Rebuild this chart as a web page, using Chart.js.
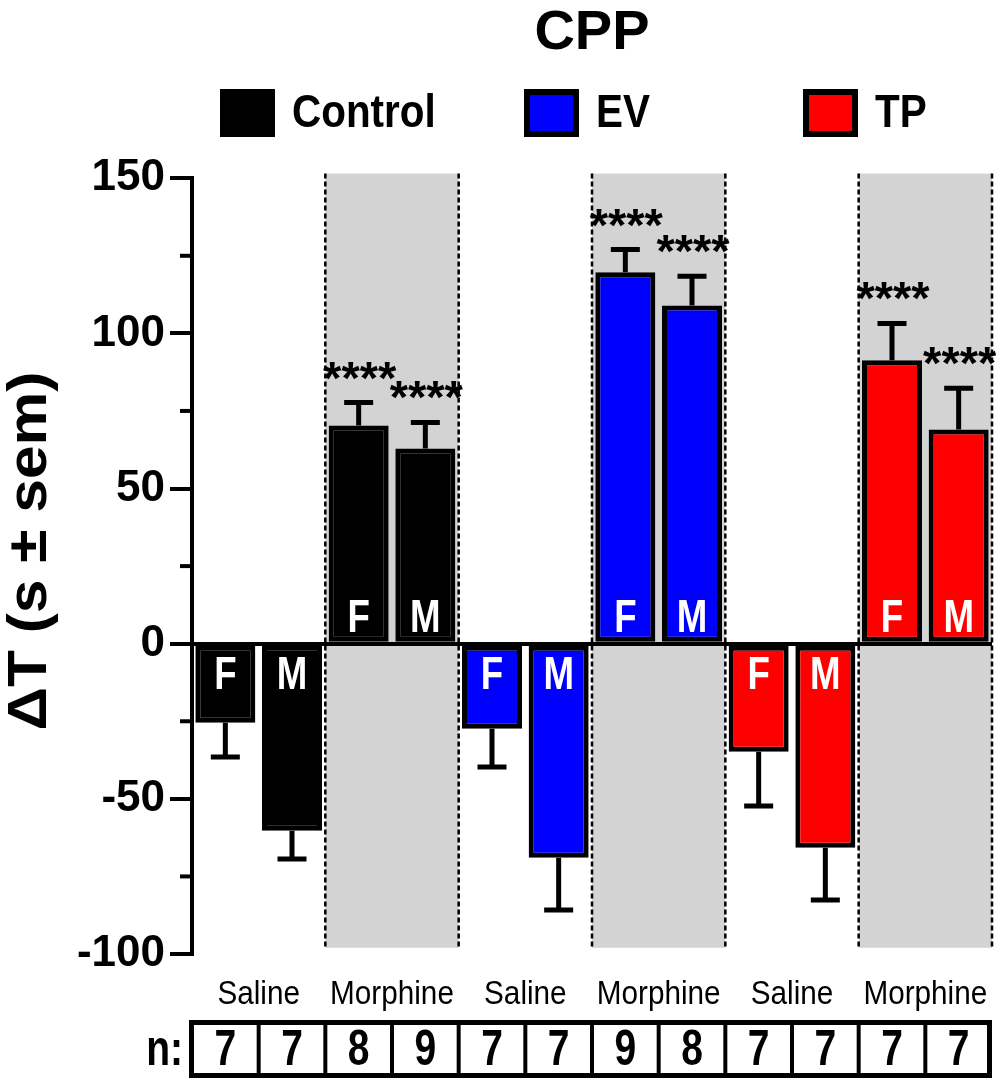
<!DOCTYPE html>
<html lang="en">
<head>
<meta charset="UTF-8">
<title>CPP</title>
<script src="https://cdn.jsdelivr.net/npm/chart.js"></script>
<style>
  html, body { margin: 0; padding: 0; background: #fff; }
  #wrap { width: 1000px; height: 1082px; }
</style>
</head>
<body>
<div id="wrap"><canvas id="cpp" width="1000" height="1082"></canvas></div>
<script>
// ---- data ----
const categories = ['Saline F', 'Saline M', 'Morphine F', 'Morphine M',
                    'Saline F', 'Saline M', 'Morphine F', 'Morphine M',
                    'Saline F', 'Saline M', 'Morphine F', 'Morphine M'];
const sexLabels = ['F', 'M', 'F', 'M', 'F', 'M', 'F', 'M', 'F', 'M', 'F', 'M'];
const treatmentLabels = ['Saline', 'Morphine', 'Saline', 'Morphine', 'Saline', 'Morphine'];
const groupNames = ['Control', 'EV', 'TP'];
const groupColors = ['#000000', '#0000ff', '#ff0000'];

const controlMean = [-25.5, -60.3, 70.3, 62.9];
const controlSem = [11.0, 9.1, 7.4, 8.4];
const evMean = [-27.4, -69.0, 119.7, 109.0];
const evSem = [12.3, 16.8, 7.3, 9.4];
const tpMean = [-34.8, -65.8, 91.3, 69.0];
const tpSem = [17.5, 16.8, 11.9, 13.3];

const significance = ['', '', '****', '****', '', '', '****', '****', '', '', '****', '****'];
const nValues = [7, 7, 8, 9, 7, 7, 9, 8, 7, 7, 7, 7];

const yTicks = [-100, -50, 0, 50, 100, 150];
const yMinorTicks = [-75, -25, 25, 75, 125];
const yTitle = 'ΔT (s ± sem)';

const FONT = "'Liberation Sans', Arial, Helvetica, sans-serif";

// each group fills its own four categories
function place(values, g) {
    const out = new Array(categories.length).fill(null);
    values.forEach((v, i) => { out[g * 4 + i] = v; });
    return out;
}

function squeezedText(ctx, text, x, y, font, sx, align, baseline, color) {
    ctx.save();
    ctx.font = font;
    ctx.fillStyle = color;
    ctx.textAlign = align;
    ctx.textBaseline = baseline;
    ctx.translate(x, y);
    ctx.scale(sx, 1);
    ctx.fillText(text, 0, 0);
    ctx.restore();
}

const means = [controlMean, evMean, tpMean];
const sems = [controlSem, evSem, tpSem];

const datasets = groupNames.map((name, g) => ({
    label: name,
    data: place(means[g], g),
    sem: place(sems[g], g),
    backgroundColor: groupColors[g],
    borderColor: '#000',
    borderWidth: 5,
    borderSkipped: false,
    barPercentage: 0.9,
    categoryPercentage: 1.0,
    grouped: false
}));

// gray morphine bands with dashed edges
const bandPlugin = {
    id: 'bands',
    beforeDraw(chart) {
        const {ctx, chartArea, scales: {x, y}} = chart;
        const slot = (chartArea.right - chartArea.left) / categories.length;
        const top = y.getPixelForValue(151.5);
        const bottom = y.getPixelForValue(-98);
        ctx.save();
        treatmentLabels.forEach((t, g) => {
            const l = x.getPixelForValue(g * 2) - slot / 2;
            const r = x.getPixelForValue(g * 2 + 1) + slot / 2;
            if (t === 'Morphine') {
                ctx.fillStyle = '#d3d3d3';
                ctx.fillRect(l, top, r - l, bottom - top);
                ctx.strokeStyle = '#000';
                ctx.lineWidth = 2.5;
                ctx.setLineDash([5, 3]);
                [l, r].forEach(px => {
                    ctx.beginPath();
                    ctx.moveTo(px, top);
                    ctx.lineTo(px, bottom);
                    ctx.stroke();
                });
                ctx.setLineDash([]);
            }
        });
        ctx.restore();
    }
};

// error bars, F/M labels, asterisks
const markPlugin = {
    id: 'marks',
    afterDatasetsDraw(chart) {
        const {ctx, scales: {y}} = chart;
        const zero = y.getPixelForValue(0);
        chart.data.datasets.forEach((ds, di) => {
            const meta = chart.getDatasetMeta(di);
            ds.data.forEach((v, i) => {
                if (v === null) return;
                const el = meta.data[i];
                const sign = v >= 0 ? 1 : -1;
                const capY = y.getPixelForValue(v + sign * ds.sem[i]);
                ctx.save();
                ctx.strokeStyle = '#000';
                ctx.lineWidth = 5;
                ctx.beginPath();
                ctx.moveTo(el.x, el.y);
                ctx.lineTo(el.x, capY);
                ctx.moveTo(el.x - 14.5, capY);
                ctx.lineTo(el.x + 14.5, capY);
                ctx.stroke();
                ctx.restore();

                const ly = v >= 0 ? zero - 25 : zero + 32;
                squeezedText(ctx, sexLabels[i], el.x, ly, 'bold 47px ' + FONT, 0.78, 'center', 'middle', '#fff');

                if (significance[i]) {
                    squeezedText(ctx, significance[i], el.x + 1, capY - 9, 'bold 47px ' + FONT, 1, 'center', 'alphabetic', '#000');
                }
            });
        });
    },
    afterDraw(chart) {
        const {ctx, chartArea, scales: {x, y}} = chart;
        const slot = (chartArea.right - chartArea.left) / categories.length;

        // minor ticks
        ctx.save();
        ctx.strokeStyle = '#000';
        ctx.lineWidth = 4;
        yMinorTicks.forEach(v => {
            const py = y.getPixelForValue(v);
            ctx.beginPath();
            ctx.moveTo(chartArea.left - 12, py);
            ctx.lineTo(chartArea.left, py);
            ctx.stroke();
        });
        ctx.restore();

        // y axis title, rotated
        ctx.save();
        ctx.translate(31, 551);
        ctx.rotate(-Math.PI / 2);
        squeezedText(ctx, yTitle, 0, 0, 'bold 56px ' + FONT, 1.08, 'center', 'middle', '#000');
        ctx.restore();

        // legend
        const legendX = [220, 524, 803];
        groupNames.forEach((name, g) => {
            const bx = legendX[g], by = 89, bw = 55, bh = 48;
            ctx.save();
            ctx.fillStyle = '#000';
            ctx.fillRect(bx, by, bw, bh);
            ctx.fillStyle = groupColors[g];
            ctx.fillRect(bx + 6, by + 6, bw - 12, bh - 12);
            ctx.restore();
            squeezedText(ctx, name, bx + bw + 17, by + bh / 2 + 1, 'bold 47px ' + FONT, 0.86, 'left', 'middle', '#000');
        });

        // treatment labels under each pair
        const base = chartArea.bottom;
        treatmentLabels.forEach((t, g) => {
            const cx = (x.getPixelForValue(g * 2) + x.getPixelForValue(g * 2 + 1)) / 2;
            squeezedText(ctx, t, cx, base + 50, '33px ' + FONT, 0.9, 'center', 'alphabetic', '#000');
        });

        // n table
        const tTop = base + 66, tBot = base + 124;
        const tLeft = chartArea.left - 3, tRight = chartArea.right;
        ctx.save();
        ctx.strokeStyle = '#000';
        ctx.lineWidth = 4;
        for (let i = 1; i < categories.length; i++) {
            const px = chartArea.left + i * slot;
            ctx.beginPath();
            ctx.moveTo(px, tTop);
            ctx.lineTo(px, tBot);
            ctx.stroke();
        }
        ctx.lineWidth = 5;
        ctx.strokeRect(tLeft + 2.5, tTop + 2.5, tRight - tLeft - 5, tBot - tTop - 5);
        ctx.restore();
        nValues.forEach((n, i) => {
            squeezedText(ctx, String(n), x.getPixelForValue(i), (tTop + tBot) / 2 + 2, 'bold 50px ' + FONT, 0.78, 'center', 'middle', '#000');
        });
        squeezedText(ctx, 'n:', tLeft - 6, (tTop + tBot) / 2 + 2, 'bold 50px ' + FONT, 0.78, 'right', 'middle', '#000');
    }
};

new Chart(document.getElementById('cpp'), {
    type: 'bar',
    data: { labels: categories, datasets: datasets },
    plugins: [bandPlugin, markPlugin],
    options: {
        responsive: false,
        animation: false,
        layout: { padding: { top: 0, left: 0, right: 8, bottom: 128 } },
        plugins: {
            legend: { display: false },
            tooltip: { enabled: false },
            title: {
                display: true,
                text: 'CPP',
                fullSize: false,
                color: '#000',
                font: { family: FONT, size: 56, weight: 'bold' },
                padding: { top: 0, bottom: 111 }
            }
        },
        scales: {
            x: { display: false },
            y: {
                min: -100,
                max: 150,
                afterFit(scale) { scale.width = 192; },
                afterBuildTicks(scale) { scale.ticks = yTicks.map(v => ({ value: v })); },
                border: { display: true, color: '#000', width: 4 },
                grid: {
                    color: c => (c.tick && c.tick.value === 0 ? '#000' : 'rgba(0,0,0,0)'),
                    lineWidth: 4,
                    tickColor: '#000',
                    tickWidth: 4,
                    tickLength: 22
                },
                ticks: {
                    color: '#000',
                    padding: 5,
                    font: { family: FONT, size: 44, weight: 'bold' }
                },
                title: { display: false }
            }
        }
    }
});
</script>
</body>
</html>
